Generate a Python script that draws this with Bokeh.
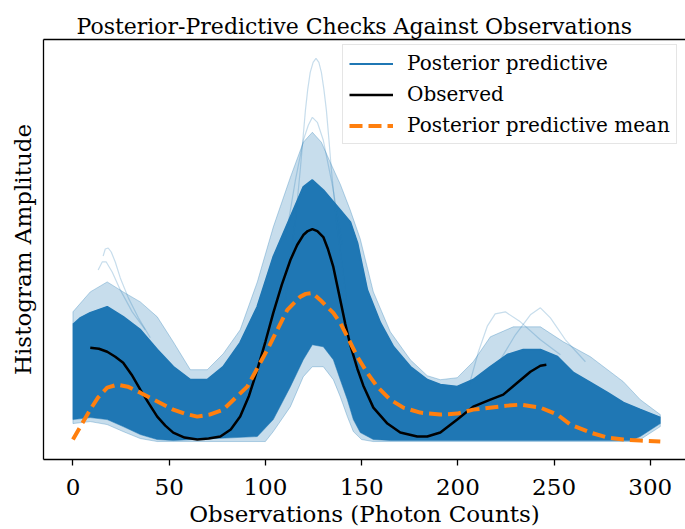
from bokeh.plotting import figure
from bokeh.models import Range1d, LinearAxis, FixedTicker, Legend, LegendItem
from bokeh.embed import file_html
from bokeh.resources import INLINE

# ---------------- data ----------------
# Observed curve
obs_x = [9.0, 13.5, 17.8, 22.0, 26.1, 30.5, 35.0, 39.5, 43.8, 48.0, 52.1, 58.0, 64.6,
         70.5, 76.6, 82.0, 86.9, 91.5, 95.8, 100.0, 104.1, 108.5, 113.0, 116.5, 119.7,
         122.0, 124.4, 127.0, 130.1, 132.5, 135.3, 138.9, 141.5, 144.1, 147.8, 150.9,
         156.1, 163.4, 170.1, 178.9, 184.1, 190.9, 199.7, 208.0, 216.9, 223.6, 230.9,
         237.7, 242.9, 246.0]
obs_y = [94, 93, 90, 85, 79, 67, 52, 38, 25, 16, 9, 4, 2,
         3, 5, 12, 25, 46, 72, 100, 129, 157, 182, 197, 207,
         211, 213, 211, 205, 193, 175, 142, 118, 97, 73, 56,
         34, 18, 9, 5, 5, 9, 22, 35, 42, 47, 59,
         70, 76, 77]

# Posterior predictive mean
mean_x = [0.0, 9.0, 13.0, 17.8, 23.0, 28.5, 35.0, 52.1, 58.0, 64.6, 71.0, 78.1, 90.6,
          101.0, 111.4, 118.0, 121.0, 124.4, 128.5, 131.0, 135.3, 138.9, 142.6, 147.8,
          152.9, 158.1, 164.9, 171.7, 180.5, 190.9, 199.7, 208.0, 225.7, 232.5, 242.9,
          251.7, 258.5, 268.9, 277.7, 286.0, 294.8, 305.2]
mean_y = [2, 32, 44, 54, 57, 55, 49, 32, 28, 25, 27, 32, 55,
          92, 132, 145, 148, 149, 142, 137, 129, 119, 105, 85,
          69, 55, 42, 34, 29, 27, 28, 32, 36, 37, 34,
          27, 17, 9, 4, 2, 1, 0]

# Posterior predictive draws: dense core envelope
core_hi_x = [0.0, 4.0, 9.0, 17.8, 26.1, 35.0, 43.8, 52.1, 61.0, 69.8, 78.1, 86.9, 95.8,
             104.1, 113.0, 119.7, 124.4, 130.1, 138.9, 144.1, 147.8, 149.3, 152.9, 159.7,
             166.5, 175.3, 184.1, 190.9, 199.7, 208.0, 216.9, 225.7, 234.0, 242.9, 251.7,
             260.0, 268.9, 277.7, 286.0, 294.8, 305.2]
core_hi_y = [117, 124, 129, 135, 125, 112, 92, 75, 62, 62, 75, 99, 135,
             185, 225, 255, 262, 252, 232, 220, 199, 185, 152, 119,
             95, 75, 62, 57, 55, 62, 75, 87, 92, 92, 85,
             69, 59, 49, 39, 32, 24]
core_lo_x = [0.0, 9.0, 17.8, 26.1, 35.0, 43.8, 52.1, 95.8, 104.1, 113.0, 119.7, 124.4,
             130.1, 135.3, 138.9, 142.6, 145.7, 149.3, 156.1, 165.0, 290.0, 294.8, 305.2]
core_lo_y = [22, 24, 22, 15, 7, 2, 1, 5, 22, 55, 82, 97,
             95, 82, 62, 42, 22, 9, 2, 1, 1, 5, 18]

# Posterior predictive draws: faint outer envelope
fringe_hi_x = [0.0, 9.0, 17.8, 26.1, 35.0, 43.8, 52.1, 61.0, 69.8, 78.1, 86.9, 95.8,
               104.1, 113.0, 119.7, 124.4, 129.1, 133.7, 138.9, 144.1, 149.3, 156.1,
               164.9, 175.3, 184.1, 190.9, 199.7, 208.0, 216.9, 228.8, 242.9, 254.8,
               268.9, 286.0, 294.8, 305.2]
fringe_hi_y = [130, 150, 160, 150, 140, 125, 100, 72, 72, 88, 112, 160,
               215, 265, 300, 310, 300, 280, 258, 232, 203, 150,
               110, 82, 66, 62, 64, 80, 105, 115, 115, 100,
               85, 60, 42, 27]
fringe_lo_x = [0.0, 9.0, 17.8, 26.1, 35.0, 43.8, 100.0, 104.1, 113.0, 119.7, 124.4, 130.1,
               135.3, 138.9, 142.6, 145.7, 150.0, 156.0, 290.0, 294.8, 305.2]
fringe_lo_y = [18, 20, 17, 10, 3, 0, 0, 10, 35, 65, 75, 75,
               62, 45, 25, 10, 2, 0, 0, 2, 15]

# A few individual outlying posterior-predictive draws
spike_x = [110.4, 113.0, 115.6, 118.1, 119.5, 120.8, 122.0, 123.3, 124.8, 126.3, 127.8,
           129.1, 130.4, 131.7, 133.0, 134.3, 136.9, 142.1]
spike_y = [142, 185, 222, 272, 303, 332, 353, 370, 380, 384, 380,
           370, 353, 332, 303, 272, 222, 142]
peak2_x = [110.4, 115.6, 119.7, 122.3, 124.4, 127.0, 130.1, 134.8, 140.0]
peak2_y = [202, 262, 302, 317, 325, 320, 302, 257, 197]
left1_x = [15.7, 16.8, 18.3, 19.9, 22.0, 24.6, 28.8, 34.0, 40.2]
left1_y = [186, 193, 194, 190, 180, 164, 144, 124, 104]
left2_x = [13.1, 15.2, 17.3, 20.4, 24.6, 30.8, 37.6]
left2_y = [172, 180, 180, 170, 152, 130, 112]
right1_x = [205.5, 210.7, 215.4, 219.4, 224.7, 232.5, 242.9, 253.3]
right1_y = [54, 90, 116, 128, 130, 120, 102, 87]
right2_x = [222.1, 229.9, 237.7, 242.9, 248.1, 255.9, 266.3]
right2_y = [82, 107, 127, 134, 124, 102, 80]

x_ticks = [0, 50, 100, 150, 200, 250, 300]

# ---------------- styling ----------------
FONT = "DejaVu Serif"
BLUE = "#1f77b4"
ORANGE = "#ff7f0e"

p = figure(width=685, height=529, output_backend="svg", toolbar_location=None,
           x_range=Range1d(-15.3, 318.3), y_range=Range1d(-18, 403),
           min_border_left=43, min_border_right=0, min_border_top=39,
           min_border_bottom=69, x_axis_location=None, y_axis_location=None,
           title="Posterior-Predictive Checks Against Observations")
p.outline_line_color = None
p.grid.visible = False
p.background_fill_color = "white"
p.border_fill_color = "white"

p.title.text_font = FONT
p.title.text_font_size = "22px"
p.title.text_font_style = "normal"
p.title.text_color = "black"
p.title.align = "left"
p.title.offset = 33
p.title.standoff = 2

# posterior predictive envelopes
p.patch(fringe_hi_x + fringe_lo_x[::-1], fringe_hi_y + fringe_lo_y[::-1],
        fill_color=BLUE, fill_alpha=0.25, line_color=BLUE, line_alpha=0.3, line_width=1)
p.patch(core_hi_x + core_lo_x[::-1], core_hi_y + core_lo_y[::-1],
        fill_color=BLUE, fill_alpha=1.0, line_color=BLUE, line_alpha=0.5, line_width=1)
for xs, ys in [(spike_x, spike_y), (peak2_x, peak2_y), (left1_x, left1_y),
               (left2_x, left2_y), (right1_x, right1_y), (right2_x, right2_y)]:
    p.line(xs, ys, line_color=BLUE, line_alpha=0.25, line_width=1.2)
pp_leg = p.line(core_hi_x, core_hi_y, line_color=BLUE, line_width=2)

obs_r = p.line(obs_x, obs_y, line_color="black", line_width=2.5)
mean_r = p.line(mean_x, mean_y, line_color=ORANGE, line_width=4, line_dash="13 6")

# axes
xaxis = LinearAxis(ticker=FixedTicker(ticks=x_ticks),
                   axis_label="Observations (Photon Counts)")
xaxis.axis_label_text_font = FONT
xaxis.axis_label_text_font_size = "23px"
xaxis.axis_label_text_font_style = "normal"
xaxis.axis_label_text_color = "black"
xaxis.major_label_text_font = FONT
xaxis.major_label_text_font_size = "23px"
xaxis.major_label_text_color = "black"
xaxis.major_tick_out = 6
xaxis.major_tick_in = 0
xaxis.minor_tick_out = 0
xaxis.minor_tick_in = 0
xaxis.major_label_standoff = 13
xaxis.axis_label_standoff = 3
xaxis.axis_line_width = 1.3
xaxis.major_tick_line_width = 1.3
p.add_layout(xaxis, "below")

yaxis = LinearAxis(ticker=FixedTicker(ticks=[]), axis_label="Histogram Amplitude")
yaxis.axis_label_text_font = FONT
yaxis.axis_label_text_font_size = "23px"
yaxis.axis_label_text_font_style = "normal"
yaxis.axis_label_text_color = "black"
yaxis.major_tick_out = 0
yaxis.minor_tick_out = 0
yaxis.major_label_text_font_size = "0px"
yaxis.axis_label_standoff = 8
yaxis.axis_line_width = 1.3
p.add_layout(yaxis, "left")

top = LinearAxis(ticker=FixedTicker(ticks=[]))
top.major_tick_out = 0
top.minor_tick_out = 0
top.major_label_text_font_size = "0px"
top.axis_line_width = 1.3
p.add_layout(top, "above")

legend = Legend(items=[LegendItem(label="Posterior predictive", renderers=[pp_leg]),
                       LegendItem(label="Observed", renderers=[obs_r]),
                       LegendItem(label="Posterior predictive mean", renderers=[mean_r])],
                location=(299, 315))
legend.label_text_font = FONT
legend.label_text_font_size = "20px"
legend.label_text_color = "black"
legend.glyph_width = 44
legend.glyph_height = 23
legend.label_height = 23
legend.label_standoff = 14
legend.spacing = 7
legend.padding = 6
legend.margin = 0
legend.border_line_color = "#cccccc"
legend.border_line_width = 1
legend.background_fill_alpha = 0.8
p.add_layout(legend, "center")

open("out.html", "w").write(file_html(p, INLINE))
